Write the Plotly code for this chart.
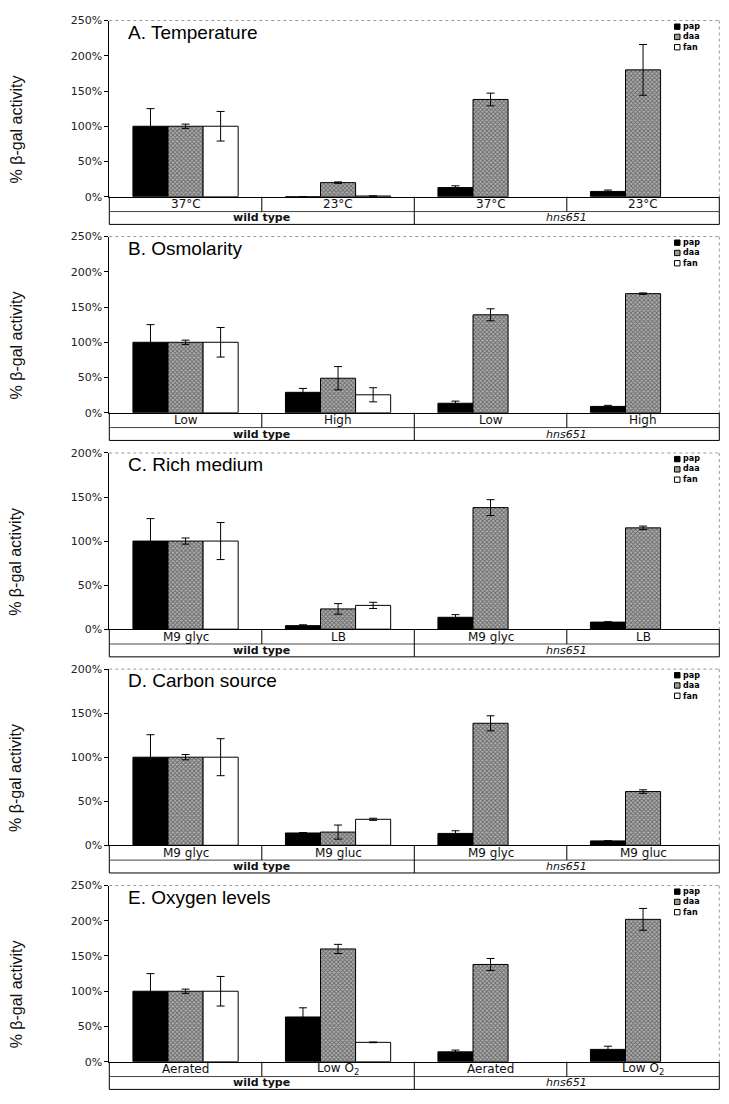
import plotly.graph_objects as go

# ---------------- data ----------------
panel_titles = ["A. Temperature", "B. Osmolarity", "C. Rich medium",
                "D. Carbon source", "E. Oxygen levels"]
conditions_A = ["37°C", "23°C", "37°C", "23°C"]
conditions_B = ["Low", "High", "Low", "High"]
conditions_C = ["M9 glyc", "LB", "M9 glyc", "LB"]
conditions_D = ["M9 glyc", "M9 gluc", "M9 glyc", "M9 gluc"]
conditions_E = ["Aerated", "Low O<sub>2</sub>", "Aerated", "Low O<sub>2</sub>"]
genotypes = ["wild type", "<i>hns651</i>"]
series_names = ["pap", "daa", "fan"]
y_max = [250, 250, 200, 200, 250]
y_ticks_250 = [0, 50, 100, 150, 200, 250]
y_ticks_200 = [0, 50, 100, 150, 200]

pap_A = [100, 0, 13, 7.5];      pap_err_A = [25, 0, 2.5, 2]
daa_A = [100, 20, 138, 180];    daa_err_A = [3, 1, 9, 36]
fan_A = [100, 1, None, None];   fan_err_A = [21, 0, 0, 0]

pap_B = [100, 29, 13.5, 9];     pap_err_B = [25, 5.5, 3, 1.5]
daa_B = [100, 49, 139, 169];    daa_err_B = [3, 16.5, 8.5, 1]
fan_B = [100, 25.5, None, None]; fan_err_B = [21, 10, 0, 0]

pap_C = [100, 4, 13.5, 8];      pap_err_C = [25.5, 1, 3, 0.5]
daa_C = [100, 23, 138, 115];    daa_err_C = [3.5, 6, 9, 2]
fan_C = [100, 27, None, None];  fan_err_C = [21, 3.5, 0, 0]

pap_D = [100, 14, 13.5, 5];     pap_err_D = [25.5, 0.5, 3, 0]
daa_D = [100, 15, 138.5, 61];   daa_err_D = [3, 8, 8.5, 2]
fan_D = [100, 29.5, None, None]; fan_err_D = [21, 1.2, 0, 0]

pap_E = [100, 63.5, 14, 17.5];  pap_err_E = [25, 13, 2.5, 4.5]
daa_E = [100, 160, 138, 202];   daa_err_E = [3, 6.5, 8.5, 15.5]
fan_E = [100, 27.5, None, None]; fan_err_E = [21, 0.5, 0, 0]

panels = [
    (conditions_A, [pap_A, daa_A, fan_A], [pap_err_A, daa_err_A, fan_err_A]),
    (conditions_B, [pap_B, daa_B, fan_B], [pap_err_B, daa_err_B, fan_err_B]),
    (conditions_C, [pap_C, daa_C, fan_C], [pap_err_C, daa_err_C, fan_err_C]),
    (conditions_D, [pap_D, daa_D, fan_D], [pap_err_D, daa_err_D, fan_err_D]),
    (conditions_E, [pap_E, daa_E, fan_E], [pap_err_E, daa_err_E, fan_err_E]),
]

# ---------------- layout geometry (pixels) ----------------
W, H = 729, 1104
X0, X1 = 109.3, 719.3
tops = [14.7, 233.3, 452.3, 671.0, 890.0]
PLOT_H = 178.3
CAT_H = 15.0
GRP_H = 13.0


def fx(p):
    return p / W


def fy(p):
    return 1 - p / H


FONT = "Liberation Sans, Arial, sans-serif"
WIDE = "DejaVu Sans, sans-serif"

styles = [
    dict(color="#000000", line=dict(color="#000000", width=1)),
    dict(color="#9a9a9a", line=dict(color="#000000", width=1),
         pattern=dict(shape="x", size=3, solidity=0.5,
                      fgcolor="#1e1e1e", bgcolor="#b0b0b0")),
    dict(color="#ffffff", line=dict(color="#000000", width=1)),
]

fig = go.Figure()
shapes = []
annotations = []

LEG_FS = 8
LEG_LH = LEG_FS * 1.3

for i, (conds, vals, errs) in enumerate(panels):
    n = i + 1
    xa = "x" if n == 1 else f"x{n}"
    ya = "y" if n == 1 else f"y{n}"
    xpos = list(range(len(conds)))
    for s, name in enumerate(series_names):
        fig.add_trace(go.Bar(
            x=xpos, y=vals[s], name=name, showlegend=False,
            xaxis=xa, yaxis=ya, marker=styles[s],
            error_y=dict(type="data", array=errs[s], visible=True,
                         color="#000000", thickness=1, width=4),
        ))

    top = tops[i]
    zero = top + PLOT_H
    catb = zero + CAT_H
    grpb = catb + GRP_H
    dom_y = [fy(zero), fy(top)]
    ticks = y_ticks_250 if y_max[i] == 250 else y_ticks_200

    fig.layout[f"xaxis{'' if n == 1 else n}"] = dict(
        domain=[fx(X0), fx(X1)], anchor=ya, range=[-0.5, len(conds) - 0.5],
        showticklabels=False, ticks="", showgrid=False, zeroline=False,
        showline=True, linecolor="#000000", linewidth=1, fixedrange=True,
    )
    fig.layout[f"yaxis{'' if n == 1 else n}"] = dict(
        domain=dom_y, anchor=xa, range=[0, y_max[i]],
        tickmode="array", tickvals=ticks, ticktext=[f"{t}%" for t in ticks],
        ticks="outside", ticklen=4,
        tickcolor="#000000", showgrid=False, zeroline=False,
        showline=True, linecolor="#000000", linewidth=1,
        tickfont=dict(family=WIDE, size=11, color="#222222"),
        fixedrange=True,
    )

    # dotted top and right frame
    shapes.append(dict(type="line", xref="paper", yref="paper",
                       x0=fx(X0), x1=fx(X1), y0=fy(top), y1=fy(top),
                       line=dict(color="#9a9a9a", width=1, dash="dot")))
    shapes.append(dict(type="line", xref="paper", yref="paper",
                       x0=fx(X1), x1=fx(X1), y0=fy(top), y1=fy(zero),
                       line=dict(color="#9a9a9a", width=1, dash="dot")))
    # table box below the plot
    for xx in (X0, X1):
        shapes.append(dict(type="line", xref="paper", yref="paper",
                           x0=fx(xx), x1=fx(xx), y0=fy(zero), y1=fy(grpb),
                           line=dict(color="#000000", width=1)))
    shapes.append(dict(type="line", xref="paper", yref="paper",
                       x0=fx(X0), x1=fx(X1), y0=fy(catb), y1=fy(catb),
                       line=dict(color="#444444", width=1)))
    shapes.append(dict(type="line", xref="paper", yref="paper",
                       x0=fx(X0), x1=fx(X1), y0=fy(grpb), y1=fy(grpb),
                       line=dict(color="#000000", width=1)))
    for k in range(1, len(conds)):
        bottom = grpb if k == len(conds) // 2 else catb
        shapes.append(dict(type="line", xref=xa, yref="paper",
                           x0=k - 0.5, x1=k - 0.5, y0=fy(zero), y1=fy(bottom),
                           line=dict(color="#000000", width=1)))
    for k, c in enumerate(conds):
        annotations.append(dict(text=c, xref=xa, yref="paper", x=k,
                                y=fy(zero + CAT_H / 2), showarrow=False,
                                xanchor="center", yanchor="middle",
                                font=dict(family=WIDE, size=12, color="#111111")))
    half = len(conds) / 2
    for g, gname in enumerate(genotypes):
        annotations.append(dict(text=f"<b>{gname}</b>" if g == 0 else gname,
                                xref=xa, yref="paper",
                                x=g * half + (half - 1) / 2,
                                y=fy(catb + GRP_H / 2), showarrow=False,
                                xanchor="center", yanchor="middle",
                                font=dict(family=WIDE, size=11, color="#111111")))

    # panel title
    annotations.append(dict(text=panel_titles[i], xref="paper", yref="paper",
                            x=fx(126), y=fy(top + 12), showarrow=False,
                            xanchor="left", yanchor="middle",
                            font=dict(family=FONT, size=19, color="#000000")))
    # y-axis title
    annotations.append(dict(text="% β-gal activity", xref="paper", yref="paper",
                            x=fx(16), y=fy((top + grpb) / 2 + 7), showarrow=False,
                            textangle=-90, xanchor="center", yanchor="middle",
                            font=dict(family=FONT, size=16, color="#111111")))

    # compact legend (top right)
    sq_fill = ["#000000", "#9a9a9a", "#ffffff"]
    leg_top = top + 0.5
    for s in range(len(series_names)):
        cy = leg_top + LEG_LH * (s + 0.5) + 0.5
        shapes.append(dict(type="rect", xref="paper", yref="paper",
                           x0=fx(674.5), x1=fx(680.0), y0=fy(cy + 2.7), y1=fy(cy - 2.7),
                           fillcolor=sq_fill[s], line=dict(color="#000000", width=1)))
    annotations.append(dict(text="<br>".join(f"<b>{nm}</b>" for nm in series_names),
                            xref="paper", yref="paper",
                            x=fx(681.5), y=fy(leg_top), showarrow=False,
                            xanchor="left", yanchor="top", align="left",
                            borderpad=0,
                            font=dict(family=WIDE, size=LEG_FS, color="#000000")))

fig.update_layout(
    width=W, height=H,
    margin=dict(l=0, r=0, t=0, b=0),
    paper_bgcolor="#ffffff", plot_bgcolor="#ffffff",
    barmode="group", bargap=0.31, bargroupgap=0,
    shapes=shapes, annotations=annotations,
    showlegend=False,
    font=dict(family=FONT),
)

fig.write_html("out.html",
               config={"displayModeBar": False},
               post_script="document.body.style.margin='0';document.body.style.padding='0';")
